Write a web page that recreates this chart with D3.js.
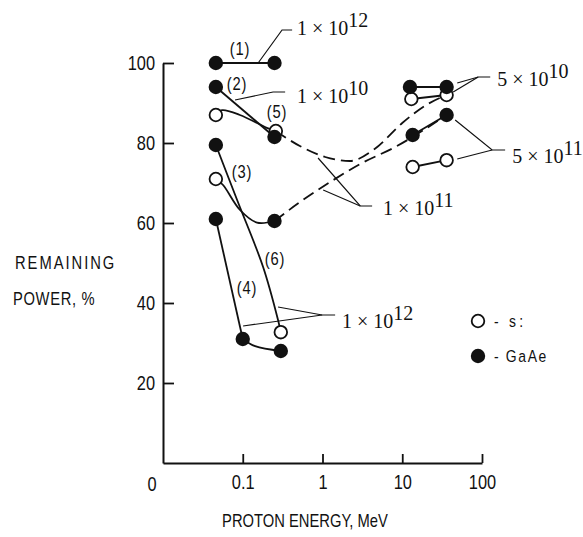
<!DOCTYPE html>
<html>
<head>
<meta charset="utf-8">
<script src="https://cdn.jsdelivr.net/npm/d3@7"></script>
<style>
  body { margin: 0; background: #fff; }
  svg { display: block; }
  text { font-family: "Liberation Sans", Arial, sans-serif; fill: #111; }
  .sci { font-family: "Liberation Serif", "DejaVu Serif", serif; font-size: 20px; }
</style>
</head>
<body>
<div id="chart"></div>
<script>
let width = 583;
let height = 537;

// Axis ticks
let energyMin = 0.01;
let energyTicks = [0.1, 1, 10, 100];
let energyLabels = ["0.1", "1", "10", "100"];
let powerTicks = [20, 40, 60, 80, 100];

// Measured points [proton energy MeV, remaining power %]
let gaasPoints = [
    [0.046, 100], [0.25, 100],
    [0.046, 94], [0.25, 81.5],
    [0.046, 79.5], [0.25, 60.5],
    [0.046, 61], [0.1, 31], [0.3, 28],
    [12.5, 94], [36, 94],
    [13.5, 82], [36, 87]
];
let siPoints = [
    [0.046, 87], [0.26, 83],
    [0.046, 71], [0.3, 32.7],
    [13, 91], [36, 92],
    [13.5, 74], [36, 75.7]
];

// Straight connecting lines
let straightLines = [
    [[0.046, 100], [0.25, 100]],
    [[0.046, 94], [0.25, 81.5]],
    [[0.046, 61], [0.1, 31]],
    [[12.5, 94], [36, 94]],
    [[13, 91], [36, 92]],
    [[13.5, 82], [36, 87]],
    [[13.5, 74], [36, 75.7]]
];

// Smooth solid curves
let solidCurves = [
    [[0.046, 87], [0.055, 88.2], [0.092, 87], [0.2, 83.8], [0.26, 83]],
    [[0.046, 79.5], [0.085, 65.75], [0.18, 49], [0.277, 35.75], [0.3, 32.7]],
    [[0.046, 71], [0.0566, 69.5], [0.0924, 63.25], [0.151, 60.1], [0.25, 60.5]],
    [[0.1, 31], [0.143, 29.2], [0.3, 28]]
];

// Dashed curves, 1 x 10^11
let dashedCurves = [
    [[0.26, 83], [0.52, 79.25], [1.08, 76.5], [2.2, 75.5], [4.5, 78.5], [10, 85], [20, 89.5], [36, 92]],
    [[0.25, 60.5], [0.524, 65.25], [1.25, 70.25], [2.96, 74.75], [8.15, 79], [36, 87]]
];

// Leader lines for fluence labels
let leaders = [
    [[0.156, 100], [0.311, 108.25], [0.416, 108.25]],
    [[0.08, 90.75], [0.24, 92.75], [0.34, 92.75]],
    [[0.277, 39], [0.99, 37], [1.44, 37]],
    [[0.101, 34.25], [0.99, 37]],
    [[0.88, 76.25], [2.97, 64.25], [4.19, 64.25]],
    [[1.02, 68.25], [2.97, 64.25]],
    [[48.9, 95], [89.6, 96.5], [126.8, 96.5]],
    [[43.5, 92.75], [89.6, 96.5]],
    [[46.1, 85.75], [134, 78.25], [195, 78.25]],
    [[48.9, 76], [134, 78.25]]
];

let fluenceLabels = [
    {base: "1 × 10", exp: "12", at: [0.48, 107.1]},
    {base: "1 × 10", exp: "10", at: [0.48, 90]},
    {base: "5 × 10", exp: "10", at: [155, 94.25]},
    {base: "5 × 10", exp: "11", at: [239, 75]},
    {base: "1 × 10", exp: "11", at: [5.75, 62]},
    {base: "1 × 10", exp: "12", at: [1.76, 33.75]}
];

let curveLabels = [
    {text: "(1)", at: [0.0925, 102]},
    {text: "(2)", at: [0.0848, 93.3]},
    {text: "(5)", at: [0.269, 86.3]},
    {text: "(3)", at: [0.098, 71.3]},
    {text: "(6)", at: [0.254, 49.5]},
    {text: "(4)", at: [0.113, 42.3]}
];

let legendItems = [
    {filled: false, text: "- s:"},
    {filled: true, text: "- GaAe"}
];

// squeeze sans text sideways to get the condensed look
let squeeze = 0.82;
function narrow(sel) {
    sel.each(function() {
        let x = +this.getAttribute("x") || 0;
        d3.select(this)
            .attr("x", x / squeeze)
            .attr("transform", "scale(" + squeeze + ",1)");
    });
}

let svg = d3.select("#chart")
            .append("svg")
            .attr("width", width)
            .attr("height", height);

let xScale = d3.scaleLog()
                .domain([energyMin, 100])
                .range([163, 482]);

let yScale = d3.scaleLinear()
                .domain([0, 100])
                .range([463, 63]);

// Axes
let xAxis = d3.axisBottom(xScale)
                .tickValues(energyTicks)
                .tickFormat((d, i) => energyLabels[i])
                .tickSize(-9)
                .tickSizeOuter(0)
                .tickPadding(12);

let yAxis = d3.axisLeft(yScale)
                .tickValues(powerTicks)
                .tickSize(-11)
                .tickSizeOuter(0)
                .tickPadding(8);

let gx = svg.append("g")
    .attr("transform", "translate(0," + yScale(0) + ")")
    .call(xAxis);

let gy = svg.append("g")
    .attr("transform", "translate(" + xScale(energyMin) + ",0)")
    .call(yAxis);

[gx, gy].forEach(g => {
    g.attr("font-family", null);
    g.select(".domain").attr("stroke", "#111").attr("stroke-width", 2);
    g.selectAll(".tick line").attr("stroke", "#111").attr("stroke-width", 1.8);
    g.selectAll(".tick text").style("font-size", "20px").call(narrow);
});

svg.append("text")
    .attr("x", xScale(energyMin) - 11)
    .attr("y", yScale(0) + 28)
    .attr("text-anchor", "middle")
    .style("font-size", "20px")
    .text("0")
    .call(narrow);

// Axis titles
svg.append("text")
    .attr("x", 15)
    .attr("y", 269)
    .style("font-size", "18px")
    .style("letter-spacing", "2.4px")
    .text("REMAINING")
    .call(narrow);

svg.append("text")
    .attr("x", 13)
    .attr("y", 305)
    .style("font-size", "18px")
    .style("letter-spacing", "0.8px")
    .text("POWER,  %")
    .call(narrow);

svg.append("text")
    .attr("x", 305)
    .attr("y", 527)
    .attr("text-anchor", "middle")
    .style("font-size", "18px")
    .text("PROTON ENERGY, MeV")
    .call(narrow);

// Lines
let straight = d3.line()
                .x(d => xScale(d[0]))
                .y(d => yScale(d[1]));

let smooth = d3.line()
                .x(d => xScale(d[0]))
                .y(d => yScale(d[1]))
                .curve(d3.curveCatmullRom.alpha(0.5));

let smoothX = d3.line()
                .x(d => xScale(d[0]))
                .y(d => yScale(d[1]))
                .curve(d3.curveMonotoneX);

svg.selectAll(".straight")
    .data(straightLines)
    .enter()
    .append("path")
    .attr("d", straight)
    .attr("fill", "none")
    .attr("stroke", "#111")
    .attr("stroke-width", 1.8);

svg.selectAll(".solid")
    .data(solidCurves)
    .enter()
    .append("path")
    .attr("d", smooth)
    .attr("fill", "none")
    .attr("stroke", "#111")
    .attr("stroke-width", 1.8);

svg.selectAll(".dashed")
    .data(dashedCurves)
    .enter()
    .append("path")
    .attr("d", smoothX)
    .attr("fill", "none")
    .attr("stroke", "#111")
    .attr("stroke-width", 1.8)
    .attr("stroke-dasharray", "12,6");

svg.selectAll(".leader")
    .data(leaders)
    .enter()
    .append("path")
    .attr("d", straight)
    .attr("fill", "none")
    .attr("stroke", "#111")
    .attr("stroke-width", 1.2);

// Points: open first, filled on top
svg.selectAll(".si")
    .data(siPoints)
    .enter()
    .append("circle")
    .attr("cx", d => xScale(d[0]))
    .attr("cy", d => yScale(d[1]))
    .attr("r", 6.3)
    .attr("fill", "#fff")
    .attr("stroke", "#111")
    .attr("stroke-width", 1.8);

svg.selectAll(".gaas")
    .data(gaasPoints)
    .enter()
    .append("circle")
    .attr("cx", d => xScale(d[0]))
    .attr("cy", d => yScale(d[1]))
    .attr("r", 7.2)
    .attr("fill", "#111");

// Labels
svg.selectAll(".curve-label")
    .data(curveLabels)
    .enter()
    .append("text")
    .attr("x", d => xScale(d.at[0]))
    .attr("y", d => yScale(d.at[1]))
    .attr("text-anchor", "middle")
    .style("font-size", "18px")
    .style("letter-spacing", "1px")
    .text(d => d.text)
    .call(narrow);

svg.selectAll(".fluence")
    .data(fluenceLabels)
    .enter()
    .append("text")
    .attr("class", "sci")
    .attr("x", d => xScale(d.at[0]))
    .attr("y", d => yScale(d.at[1]))
    .each(function(d) {
        let t = d3.select(this);
        t.append("tspan").text(d.base);
        t.append("tspan").attr("dy", -8).text(d.exp);
    });

// Legend
let legend = svg.append("g")
                .attr("transform", "translate(478,321)");

legend.selectAll("circle")
    .data(legendItems)
    .enter()
    .append("circle")
    .attr("cx", 0)
    .attr("cy", (d, i) => i * 35)
    .attr("r", d => d.filled ? 7.2 : 6.3)
    .attr("fill", d => d.filled ? "#111" : "#fff")
    .attr("stroke", "#111")
    .attr("stroke-width", d => d.filled ? 0 : 1.8);

legend.selectAll("text")
    .data(legendItems)
    .enter()
    .append("text")
    .attr("x", 16)
    .attr("y", (d, i) => i * 35 + 6)
    .style("font-size", "17px")
    .style("letter-spacing", (d, i) => i ? "2px" : "4px")
    .text(d => d.text)
    .call(narrow);
</script>
</body>
</html>
